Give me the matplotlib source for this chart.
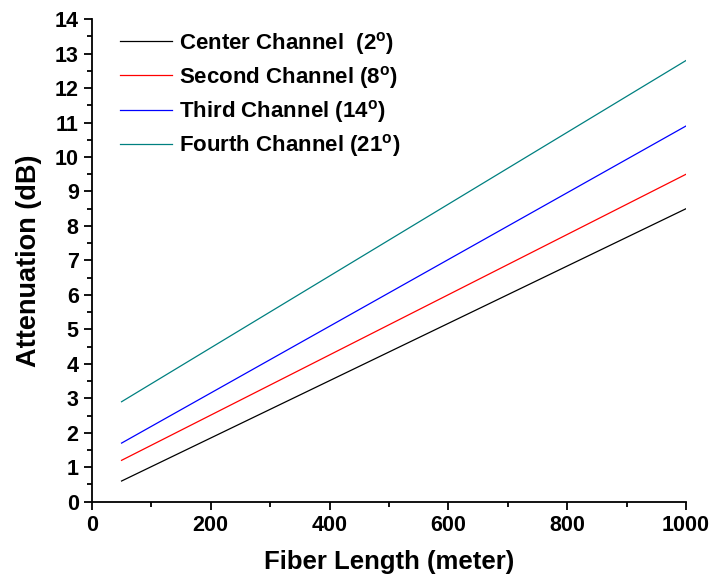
import matplotlib
matplotlib.use("Agg")
import matplotlib.pyplot as plt
from matplotlib.ticker import MultipleLocator

plt.rcParams['font.family'] = ['Liberation Sans', 'DejaVu Sans']
plt.rcParams['font.weight'] = 'bold'
plt.rcParams['mathtext.fontset'] = 'custom'
plt.rcParams['mathtext.rm'] = 'Liberation Sans:bold'
plt.rcParams['mathtext.default'] = 'rm'

fiber_length = [50, 1000]
center = [0.6, 8.5]
second = [1.2, 9.5]
third = [1.7, 10.9]
fourth = [2.9, 12.8]
labels = [r'Center Channel  (2$^{o}$)', r'Second Channel (8$^{o}$)',
          r'Third Channel (14$^{o}$)', r'Fourth Channel (21$^{o}$)']
colors = ['black', 'red', 'blue', '#008080']

fig = plt.figure(figsize=(7.12, 5.8), dpi=100)
ax = fig.add_axes([0.129, 0.135, 0.8345, 0.832])
for ys, lab, c in zip([center, second, third, fourth], labels, colors):
    ax.plot(fiber_length, ys, color=c, lw=0.9, label=lab)

ax.set_xlim(0, 1000)
ax.set_ylim(0, 14)
ax.xaxis.set_major_locator(MultipleLocator(200))
ax.xaxis.set_minor_locator(MultipleLocator(100))
ax.yaxis.set_major_locator(MultipleLocator(1))
ax.yaxis.set_minor_locator(MultipleLocator(0.5))
for s in ['top', 'right']:
    ax.spines[s].set_visible(False)
for s in ['left', 'bottom']:
    ax.spines[s].set_linewidth(1.3)
ax.tick_params(which='major', direction='out', length=6, width=1.3, labelsize=15.5)
ax.tick_params(which='minor', direction='out', length=3.5, width=1.3)
plt.setp(ax.get_xticklabels() + ax.get_yticklabels(), fontweight='bold')

ax.set_xlabel('Fiber Length (meter)', fontsize=18.5, fontweight='bold', labelpad=10)
ax.set_ylabel('Attenuation (dB)', fontsize=19.5, fontweight='bold', labelpad=9)

leg = ax.legend(loc='upper left', bbox_to_anchor=(0.047, 0.978), frameon=False,
                borderaxespad=0, borderpad=0, handlelength=2.35, handletextpad=0.3,
                labelspacing=0.32, prop={'size': 16, 'weight': 'bold'})

fig.savefig('out.png', dpi=100)
